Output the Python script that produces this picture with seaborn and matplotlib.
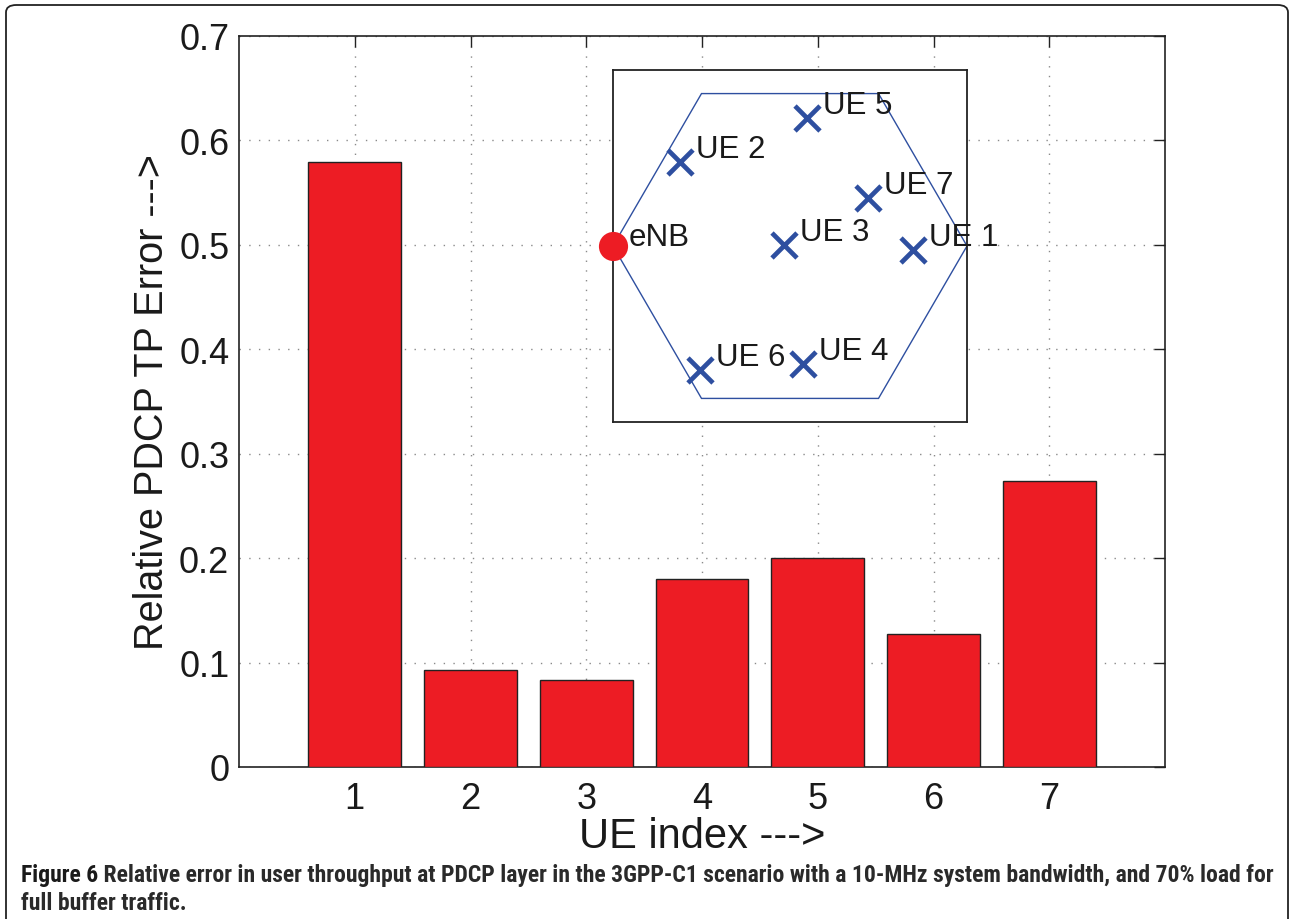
import matplotlib
matplotlib.use("Agg")
import matplotlib.pyplot as plt
from matplotlib.patches import FancyBboxPatch, RegularPolygon
import seaborn as sns
import numpy as np
import pandas as pd

# ---- data ----
ue_index = ["1", "2", "3", "4", "5", "6", "7"]
rel_error = [0.579, 0.093, 0.083, 0.180, 0.200, 0.127, 0.274]
y_ticks = [0, 0.1, 0.2, 0.3, 0.4, 0.5, 0.6, 0.7]
y_ticklabels = ["0", "0.1", "0.2", "0.3", "0.4", "0.5", "0.6", "0.7"]

ue_names = ["UE 1", "UE 2", "UE 3", "UE 4", "UE 5", "UE 6", "UE 7"]
ue_x = [0.697, -0.621, -0.032, 0.075, 0.094, -0.508, 0.443]
ue_y = [-0.023, 0.476, 0.007, -0.672, 0.727, -0.704, 0.275]
enb_x = [-1.0]
enb_y = [0.0]

caption_bold = "Figure 6"
caption_line1 = (" Relative error in user throughput at PDCP layer in the 3GPP-C1 scenario "
                 "with a 10-MHz system bandwidth, and 70% load for")
caption_line2 = "full buffer traffic."

# ---- style ----
sns.set_style("white")
plt.rcParams["font.family"] = ["Liberation Sans", "DejaVu Sans"]

W, H = 1289, 920
fig = plt.figure(figsize=(W / 100, H / 100), dpi=100)

def px_rect(l, t, r, b):
    return [l / W, 1 - b / H, (r - l) / W, (b - t) / H]

red = "#ED1C24"
blue = "#2E4FA0"
txt = "#1a1a1a"

ax = fig.add_axes(px_rect(239, 37, 1165, 768))
df = pd.DataFrame({"ue": ue_index, "err": rel_error})
sns.barplot(data=df, x="ue", y="err", color=red, saturation=1, width=0.8,
            edgecolor="#222222", linewidth=1.0, errorbar=None, ax=ax, zorder=3)
ax.set_xlim(-1, 7)
ax.set_ylim(0, 0.7)
ax.set_yticks(y_ticks)
ax.set_yticklabels(y_ticklabels)
ax.grid(True, linestyle=(0, (1, 6)), color="#8a8a8a", linewidth=1.0, zorder=0)
ax.set_axisbelow(True)
ax.tick_params(axis="both", direction="in", length=8, width=1, colors="#222222",
               labelsize=26, labelcolor=txt, top=True, right=True)
ax.tick_params(axis="x", pad=10)
ax.tick_params(axis="y", pad=7)
for s in ax.spines.values():
    s.set_visible(True)
    s.set_color("#222222")
    s.set_linewidth(1.2)
ax.set_xlabel("UE index --->", fontsize=30, color=txt, labelpad=0)
ax.set_ylabel("Relative PDCP TP Error --->", fontsize=28.5, color=txt, labelpad=6)

# ---- inset ----
ax2 = fig.add_axes(px_rect(613, 71, 967, 423))
ax2.set_xlim(-1, 1)
ax2.set_ylim(-1, 1)
ax2.set_xticks([])
ax2.set_yticks([])
for s in ax2.spines.values():
    s.set_visible(True)
    s.set_color("#222222")
    s.set_linewidth(1.3)
hexagon = RegularPolygon((0, 0), numVertices=6, radius=1.0, orientation=np.pi / 6,
                         fill=False, edgecolor=blue, linewidth=1.0)
ax2.add_patch(hexagon)
sns.scatterplot(x=ue_x, y=ue_y, marker="x", s=18 ** 2, color=blue, linewidth=3.4,
                ax=ax2, zorder=4, clip_on=False, legend=False)
sns.scatterplot(x=enb_x, y=enb_y, marker="o", s=21 ** 2, color=red, linewidth=0,
                ax=ax2, zorder=5, clip_on=False, legend=False)
for name, x, y in zip(ue_names, ue_x, ue_y):
    ax2.annotate(name, (x, y), xytext=(11.5, 3.5), textcoords="offset points",
                 fontsize=22.5, color=txt, ha="left", va="baseline",
                 annotation_clip=False, zorder=6)
ax2.annotate("eNB", (enb_x[0], enb_y[0]), xytext=(11.5, 1), textcoords="offset points",
             fontsize=22.5, color=txt, ha="left", va="baseline",
             annotation_clip=False, zorder=6)

# ---- outer rounded frame ----
frame = FancyBboxPatch((6 / W, 1 - 930 / H), (1288 - 6) / W, (930 - 6) / H,
                       boxstyle="round,pad=0,rounding_size=0.008",
                       transform=fig.transFigure, fill=False,
                       edgecolor="#222222", linewidth=1.3, clip_on=False)
fig.patches.append(frame)

# ---- caption ----
cap_family = ["Roboto Condensed", "Open Sans Condensed", "Liberation Sans Narrow",
              "Liberation Sans", "DejaVu Sans"]
cap_size = 16
renderer = fig.canvas.get_renderer()
t1 = fig.text(21 / W, 1 - 882 / H, caption_bold, fontsize=cap_size, fontweight="bold",
              family=cap_family, color=txt, ha="left", va="baseline")
bb = t1.get_window_extent(renderer)
t2 = fig.text(bb.x1 / W, 1 - 882 / H, caption_line1, fontsize=cap_size,
              fontweight="bold", family=cap_family, color="#2a2a2a",
              ha="left", va="baseline")
bb2 = t2.get_window_extent(renderer)
target = 1275
scale = (target - 21) / (bb2.x1 - 21)
new_size = cap_size * scale
t1.set_fontsize(new_size)
bb = t1.get_window_extent(renderer)
t2.set_fontsize(new_size)
t2.set_x(bb.x1 / W)
fig.text(21 / W, 1 - 910 / H, caption_line2, fontsize=new_size, fontweight="bold",
         family=cap_family, color="#2a2a2a", ha="left", va="baseline")

fig.savefig("out.png", dpi=100)
